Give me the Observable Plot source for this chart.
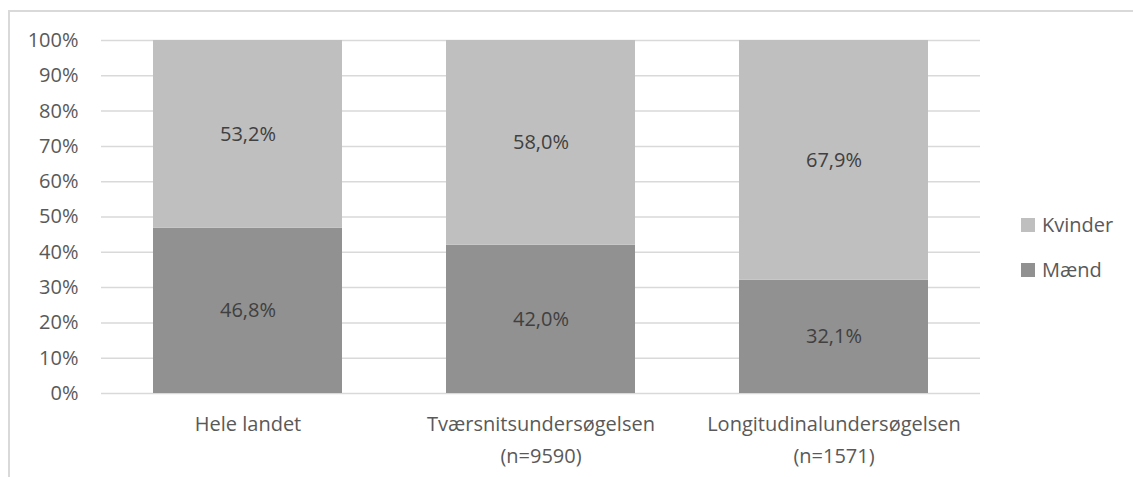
<!DOCTYPE html>
<html><head><meta charset="utf-8">
<script src="https://cdn.jsdelivr.net/npm/d3@7"></script>
<script src="https://cdn.jsdelivr.net/npm/@observablehq/plot@0.6"></script>
<style>
body{margin:0;background:#fff;font-family:"Open Sans",sans-serif;}
#wrap{position:relative;width:1133px;height:477px;overflow:hidden;}
#border{position:absolute;left:8px;top:10px;width:1200px;height:600px;border:2px solid #d9d9d9;box-sizing:border-box;}
#chart{position:absolute;left:0;top:0;}
.leg{position:absolute;left:1021px;font-size:20px;line-height:24px;color:#595959;display:flex;align-items:center;}
.leg span{display:inline-block;width:14px;height:14px;margin-right:7px;}
</style></head>
<body><div id="wrap"><div id="border"></div><div id="chart"></div>
<div class="leg" style="top:213px"><span style="background:#bfbfbf"></span>Kvinder</div>
<div class="leg" style="top:258px"><span style="background:#919191"></span>Mænd</div>
</div>
<script>
const categories = ["Hele landet", "Tværsnitsundersøgelsen\n(n=9590)", "Longitudinalundersøgelsen\n(n=1571)"];
const maend = [46.8, 42.0, 32.1];
const kvinder = [53.2, 58.0, 67.9];
const series = ["Mænd", "Kvinder"];
const yTicks = [0,10,20,30,40,50,60,70,80,90,100];

const data = [];
categories.forEach((c,i)=>{
  data.push({cat:c, s:"Mænd", v:maend[i], order:0});
  data.push({cat:c, s:"Kvinder", v:kvinder[i], order:1});
});
const fmt = v => v.toFixed(1).replace(".", ",") + "%";

const plot = Plot.plot({
  width:1133, height:477,
  marginLeft:101, marginRight:153, marginTop:40, marginBottom:84,
  style:{fontFamily:"Open Sans, sans-serif", color:"#595959", background:"transparent"},
  x:{domain:categories, paddingInner:0.355, paddingOuter:0.1775, label:null},
  y:{domain:[0,100], label:null},
  color:{domain:series, range:["#919191","#bfbfbf"]},
  marks:[
    Plot.gridY(yTicks, {stroke:"#d9d9d9", strokeOpacity:1, strokeWidth:1.5}),
    Plot.barY(data, Plot.stackY({x:"cat", y:"v", fill:"s", order:"order"})),
    Plot.text(data, Plot.stackY({x:"cat", y:"v", order:"order", text:d=>fmt(d.v), fill:"#404040", fontSize:20})),
    Plot.axisY(yTicks, {tickSize:0, tickPadding:23, fontSize:20, fill:"#595959", tickFormat:d=>d+"%"}),
    Plot.axisX({tickSize:0, tickPadding:15, fontSize:20, fill:"#595959", lineHeight:1.6})
  ]
});
document.getElementById("chart").appendChild(plot);
</script></body></html>
